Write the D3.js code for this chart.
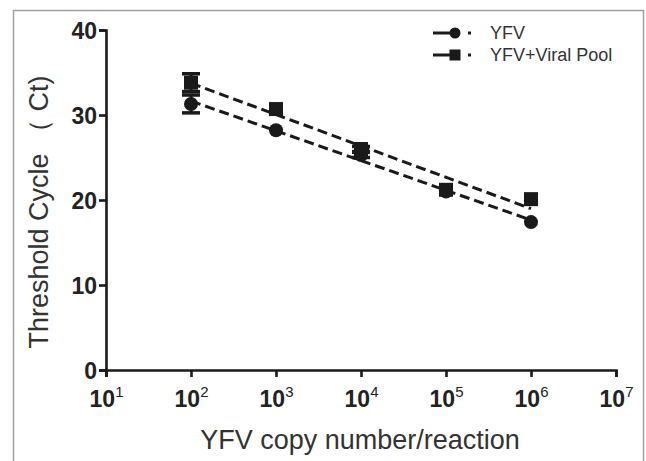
<!DOCTYPE html>
<meta charset="utf-8">
<style>
body { margin: 0; background: #fff; }
text { font-family: "Liberation Sans", Arial, sans-serif; }
.axis path, .axis line { stroke: #1a1a1a; stroke-width: 2.6px; }
.axis text { font-weight: bold; font-size: 23px; fill: #222; }
.title { font-size: 27px; fill: #333; }
.legend text { font-size: 18px; fill: #333; }
</style>
<svg width="646" height="461"></svg>
<script src="https://cdn.jsdelivr.net/npm/d3@7"></script>
<script>
// copy numbers per reaction (log10)
const exponents = [2, 3, 4, 5, 6]
const xTickExps = [1, 2, 3, 4, 5, 6, 7]
const yTicks = [0, 10, 20, 30, 40]

// mean Ct and error
const yfv = [31.3, 28.2, 25.3, 21.0, 17.4]
const yfvErr = [1.05, 0, 0.3, 0, 0]
const pool = [33.8, 30.7, 26.0, 21.2, 20.1]
const poolErr = [1.05, 0, 0.3, 0, 0]

const seriesNames = ["YFV", "YFV+Viral Pool"]

const svg = d3.select("svg")

// frame
svg.append("rect")
    .attr("x", 13.5).attr("y", 10.5)
    .attr("width", 630).attr("height", 470)
    .attr("fill", "#fff")
    .attr("stroke", "#a0a0a0")
    .attr("stroke-width", 1.5)

const x = d3.scaleLog().domain([10, 1e7]).range([106, 616])
const y = d3.scaleLinear().domain([0, 40]).range([370, 30])

// axes
const xAxis = svg.append("g")
    .attr("class", "axis")
    .attr("transform", "translate(0,370)")
    .call(d3.axisBottom(x).tickValues(xTickExps.map(e => Math.pow(10, e))).tickSize(7).tickFormat(""))

xAxis.selectAll(".tick").append("text")
    .attr("y", 37)
    .attr("text-anchor", "middle")
    .attr("fill", "#222")
    .each(function(d) {
      const t = d3.select(this)
      t.append("tspan").text("10")
      t.append("tspan")
        .attr("dy", -10)
        .style("font-size", "15px")
        .style("font-weight", "normal")
        .text(Math.round(Math.log10(d)))
    })

svg.append("g")
    .attr("class", "axis")
    .attr("transform", "translate(106,0)")
    .call(d3.axisLeft(y).tickValues(yTicks).tickSize(7).tickPadding(2))
    .selectAll("text").attr("dy", "0.36em")

svg.selectAll(".axis .domain").attr("fill", "none")

// titles
svg.append("text")
    .attr("class", "title")
    .attr("x", 360).attr("y", 449)
    .attr("text-anchor", "middle")
    .text("YFV copy number/reaction")

svg.append("text")
    .attr("class", "title")
    .attr("transform", "translate(48,212) rotate(-90)")
    .attr("text-anchor", "middle")
    .text("Threshold Cycle （ Ct)")

// regression on log10 copy number
function fit(vals) {
  const mx = d3.mean(exponents), my = d3.mean(vals)
  const num = d3.sum(exponents, (e, i) => (e - mx) * (vals[i] - my))
  const den = d3.sum(exponents, e => (e - mx) * (e - mx))
  const b = num / den
  return e => my + b * (e - mx)
}

const series = [
  { name: seriesNames[0], vals: yfv, err: yfvErr, shape: "circle" },
  { name: seriesNames[1], vals: pool, err: poolErr, shape: "square" }
]

const plot = svg.append("g")

series.forEach(s => {
  const f = fit(s.vals)
  const ends = [exponents[0], exponents[exponents.length - 1]]
  plot.append("line")
      .attr("x1", x(Math.pow(10, ends[0]))).attr("y1", y(f(ends[0])))
      .attr("x2", x(Math.pow(10, ends[1]))).attr("y2", y(f(ends[1])))
      .attr("stroke", "#1a1a1a")
      .attr("stroke-width", 3)
      .attr("stroke-dasharray", "10,5")
})

function marker(g, shape, cx, cy, size) {
  if (shape === "circle") {
    g.append("circle").attr("cx", cx).attr("cy", cy).attr("r", size / 2).attr("fill", "#1a1a1a")
  } else {
    g.append("rect").attr("x", cx - size / 2).attr("y", cy - size / 2)
      .attr("width", size).attr("height", size).attr("fill", "#1a1a1a")
  }
}

series.forEach(s => {
  exponents.forEach((e, i) => {
    const cx = x(Math.pow(10, e))
    if (s.err[i] > 0) {
      const top = y(s.vals[i] + s.err[i]), bot = y(s.vals[i] - s.err[i])
      plot.append("line")
          .attr("x1", cx).attr("x2", cx).attr("y1", top).attr("y2", bot)
          .attr("stroke", "#1a1a1a").attr("stroke-width", 3)
      ;[top, bot].forEach(yy => {
        plot.append("line")
            .attr("x1", cx - 9).attr("x2", cx + 9).attr("y1", yy).attr("y2", yy)
            .attr("stroke", "#1a1a1a").attr("stroke-width", 3.5)
      })
    }
    marker(plot, s.shape, cx, y(s.vals[i]), 14)
  })
})

// legend
const legend = svg.append("g").attr("class", "legend")
series.forEach((s, i) => {
  const ly = 33 + i * 22
  legend.append("line")
      .attr("x1", 433).attr("x2", 452).attr("y1", ly).attr("y2", ly)
      .attr("stroke", "#1a1a1a").attr("stroke-width", 3)
  marker(legend, s.shape, 455, ly, 11)
  legend.append("rect")
      .attr("x", 468).attr("y", ly - 1.5).attr("width", 3).attr("height", 3)
      .attr("fill", "#1a1a1a")
  legend.append("text")
      .attr("x", 490).attr("y", ly).attr("dy", "0.36em")
      .text(s.name)
})
</script>
